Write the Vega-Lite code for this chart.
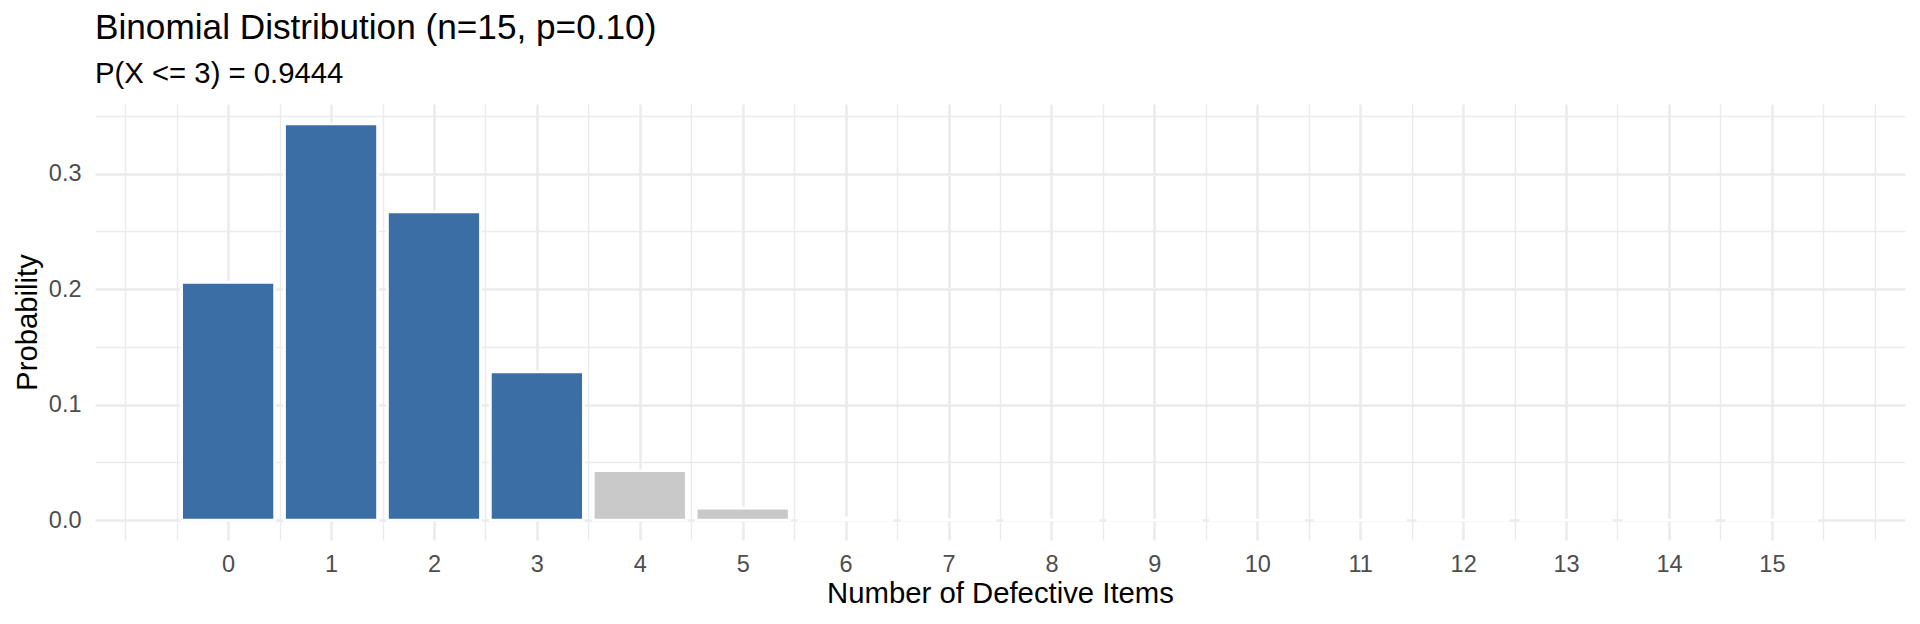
{
  "$schema": "https://vega.github.io/schema/vega-lite/v6.json",
  "width": 1810,
  "height": 436,
  "autosize": {"type": "none"},
  "padding": {"left": 95, "top": 104, "right": 15, "bottom": 84},
  "background": "white",
  "title": {
    "text": "Binomial Distribution (n=15, p=0.10)",
    "subtitle": "P(X <= 3) = 0.9444",
    "anchor": "start",
    "frame": "group",
    "font": "Liberation Sans",
    "fontSize": 35.2,
    "fontWeight": "normal",
    "color": "black",
    "subtitleFont": "Liberation Sans",
    "subtitleFontSize": 29.3,
    "subtitleColor": "black",
    "subtitlePadding": 14,
    "offset": 15
  },
  "config": {
    "view": {"stroke": null},
    "axis": {
      "labelFont": "Liberation Sans",
      "titleFont": "Liberation Sans",
      "gridColor": "#EBEBEB"
    }
  },
  "data": {
    "values": [
      {"k": 0, "p": 0.205891, "g": "le3"},
      {"k": 1, "p": 0.343152, "g": "le3"},
      {"k": 2, "p": 0.266896, "g": "le3"},
      {"k": 3, "p": 0.128505, "g": "le3"},
      {"k": 4, "p": 0.042835, "g": "gt3"},
      {"k": 5, "p": 0.010471, "g": "gt3"},
      {"k": 6, "p": 0.001939, "g": "gt3"},
      {"k": 7, "p": 0.000277, "g": "gt3"},
      {"k": 8, "p": 0.0000308, "g": "gt3"},
      {"k": 9, "p": 0.0000027, "g": "gt3"},
      {"k": 10, "p": 0.00000018, "g": "gt3"},
      {"k": 11, "p": 0.000000009, "g": "gt3"},
      {"k": 12, "p": 0.0000000003, "g": "gt3"},
      {"k": 13, "p": 0.0000000000084, "g": "gt3"},
      {"k": 14, "p": 0.00000000000013, "g": "gt3"},
      {"k": 15, "p": 0.000000000000001, "g": "gt3"}
    ]
  },
  "layer": [
    {
      "mark": {"type": "bar", "width": 93.1, "stroke": "white", "strokeWidth": 2.8},
      "encoding": {
        "x": {
          "field": "k",
          "type": "quantitative",
          "scale": {"domain": [-1.245, 16.245], "nice": false, "zero": false},
          "axis": {
            "values": [0, 1, 2, 3, 4, 5, 6, 7, 8, 9, 10, 11, 12, 13, 14, 15],
            "format": "d",
            "grid": true,
            "gridWidth": 2.6,
            "ticks": false,
            "tickSize": 0,
            "domain": false,
            "labelFontSize": 23.5,
            "labelColor": "#4D4D4D",
            "labelPadding": 12,
            "title": "Number of Defective Items",
            "titleFontSize": 29.3,
            "titleFontWeight": "normal",
            "titleColor": "black",
            "titlePadding": 4
          }
        },
        "y": {
          "field": "p",
          "type": "quantitative",
          "scale": {"domain": [-0.017158, 0.360308], "nice": false, "zero": false},
          "axis": {
            "values": [0, 0.1, 0.2, 0.3],
            "format": ".1f",
            "grid": true,
            "gridWidth": 2.6,
            "ticks": false,
            "tickSize": 0,
            "domain": false,
            "labelFontSize": 23.5,
            "labelColor": "#4D4D4D",
            "labelPadding": 14,
            "title": "Probability",
            "titleFontSize": 29.3,
            "titleFontWeight": "normal",
            "titleColor": "black",
            "titlePadding": 6
          }
        },
        "y2": {"datum": 0},
        "color": {
          "field": "g",
          "type": "nominal",
          "scale": {"domain": ["le3", "gt3"], "range": ["#3A6EA5", "#C9C9C9"]},
          "legend": null
        }
      }
    },
    {
      "mark": {"type": "point", "opacity": 0},
      "encoding": {
        "x": {
          "field": "k",
          "type": "quantitative",
          "axis": {
            "orient": "top",
            "values": [-1, -0.5, 0.5, 1.5, 2.5, 3.5, 4.5, 5.5, 6.5, 7.5, 8.5, 9.5, 10.5, 11.5, 12.5, 13.5, 14.5, 15.5, 16],
            "grid": true,
            "gridWidth": 1.4,
            "labels": false,
            "ticks": false,
            "domain": false,
            "title": null
          }
        },
        "y": {
          "field": "p",
          "type": "quantitative",
          "axis": {
            "orient": "right",
            "values": [0.05, 0.15, 0.25, 0.35],
            "grid": true,
            "gridWidth": 1.4,
            "labels": false,
            "ticks": false,
            "domain": false,
            "title": null
          }
        }
      }
    }
  ],
  "resolve": {"axis": {"x": "independent", "y": "independent"}}
}
